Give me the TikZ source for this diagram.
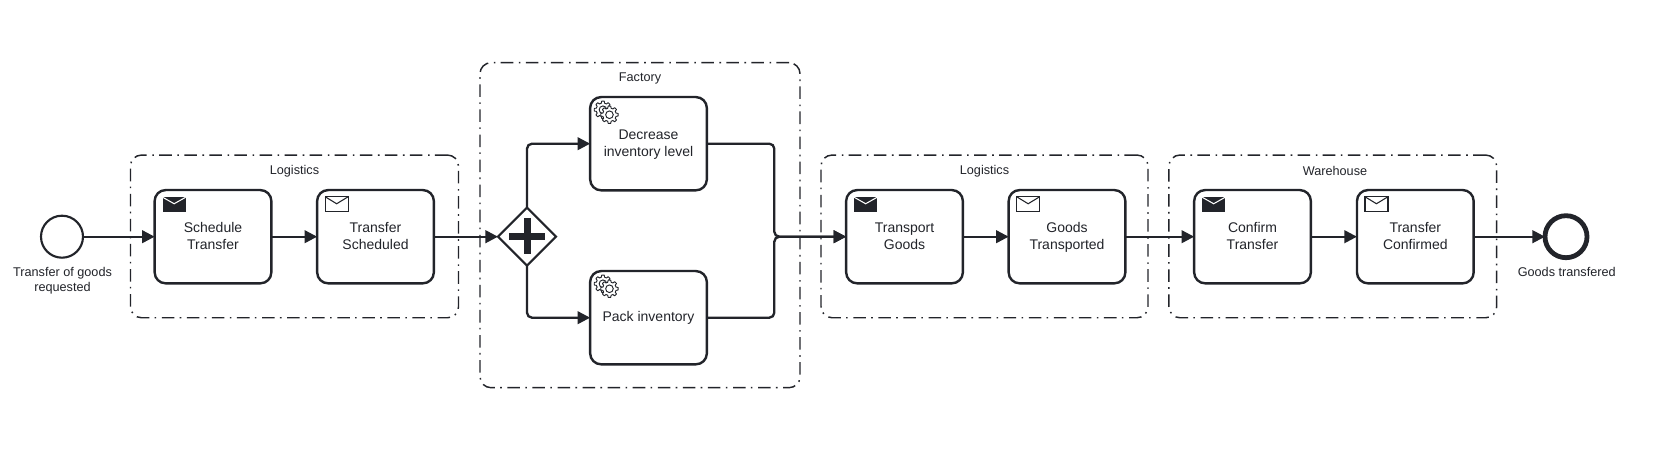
\documentclass[tikz,border=0pt]{standalone}
\usepackage{fontspec}
\setmainfont{Liberation Sans}
\usetikzlibrary{arrows.meta,shapes.geometric}
\definecolor{ink}{HTML}{22242A}
\def\px{0.75pt}
\def\tl{\rule[-3.2pt]{0pt}{12.75pt}}
\tikzset{
  x=0.75pt,y=-0.75pt,
  flow/.style={draw=ink,line width=1.75pt,-{Triangle[length=9.4pt,width=9.4pt]},rounded corners=3.75pt},
  taskbox/.style={draw=ink,fill=white,line width=1.8pt,rounded corners=8.25pt,minimum width=116.7*\px,minimum height=93.3*\px,inner sep=0,outer sep=0,align=center,text=ink,font=\fontsize{10.5pt}{12.75pt}\selectfont},
  groupbox/.style={draw=ink,line width=1.1pt,rounded corners=8.25pt,dash pattern=on 9.4pt off 4pt on 1.2pt off 4.2pt,inner sep=0,outer sep=0},
  caption/.style={text=ink,align=center,inner sep=0,font=\fontsize{9.5pt}{11.25pt}\selectfont},
  startev/.style={circle,draw=ink,fill=white,line width=1.6pt,minimum size=42*\px,inner sep=0,outer sep=0},
  endev/.style={circle,draw=ink,fill=white,line width=3.6pt,minimum size=42*\px,inner sep=0,outer sep=0},
  gatebox/.style={diamond,aspect=1,draw=ink,fill=white,line width=1.6pt,minimum size=58*\px,inner sep=0,outer sep=0},
  gearicon/.pic={
    \draw[draw=ink,fill=white,line width=0.7pt] plot[domain=0:360,samples=145] (\x:{6.7+2*min(1,max(0,0.5+1.6*cos(8*\x)))}) -- cycle;
    \draw[draw=ink,line width=0.7pt] (0,0) circle[radius=3.8];
    \begin{scope}[shift={(6.5,5)}]
    \draw[draw=ink,fill=white,line width=0.7pt] plot[domain=0:360,samples=145] (\x:{6.7+2*min(1,max(0,0.5+1.6*cos(8*\x)))}) -- cycle;
    \draw[draw=ink,fill=white,line width=0.7pt] (0,0) circle[radius=3.8];
    \end{scope}
  },
  mailfull/.pic={
    \fill[ink] (0,0) rectangle (23,15);
    \draw[white,line width=0.8pt] (0,0.5) -- (11.5,7) -- (23,0.5);
  },
  mailopen/.pic={
    \draw[draw=ink,line width=0.8pt] (0,0) rectangle (23,15);
    \draw[draw=ink,line width=0.8pt] (0,0) -- (11.5,7) -- (23,0);
  }
}
\begin{document}
\begin{tikzpicture}
\useasboundingbox[fill=white] (0,0) rectangle (1659,463);
% groups
\node[groupbox,minimum width=328*\px,minimum height=162.7*\px] (g1) at (294.5,236.4) {};
\node[groupbox,minimum width=320*\px,minimum height=325*\px] (g2) at (640,225.2) {};
\node[groupbox,minimum width=327*\px,minimum height=162.7*\px] (g3) at (984.5,236.4) {};
\node[groupbox,minimum width=327.7*\px,minimum height=162.7*\px] (g4) at (1332.8,236.4) {};
\node[caption] (g1t) at (294.5,171.3) {Logistics};
\node[caption] (g2t) at (640,78) {Factory};
\node[caption] (g3t) at (984.5,171.3) {Logistics};
\node[caption] (g4t) at (1335,171.3) {Warehouse};
% events and gateway
\node[startev] (start) at (62,236.7) {};
\node[caption] (startt) at (62.5,280.5) {Transfer of goods\\requested};
\node[endev] (finish) at (1566,236.7) {};
\node[caption] (finisht) at (1566.7,272) {Goods transfered};
\node[gatebox] (gw) at (527,236.7) {};
\draw[ink,line width=5.25pt] (509,236.5) -- (545,236.5) (527.3,218.5) -- (527.3,254.5);
% tasks
\node[taskbox] (a) at (213,236.7) {Schedule\tl\\Transfer\tl};
\node[taskbox] (b) at (375.5,236.7) {Transfer\tl\\Scheduled\tl};
\node[taskbox] (dec) at (648.5,143.7) {Decrease\tl\\inventory level\tl};
\node[taskbox] (pack) at (648.5,317.7) {Pack inventory\tl};
\node[taskbox] (c) at (904.5,236.7) {Transport\tl\\Goods\tl};
\node[taskbox] (d) at (1067,236.7) {Goods\tl\\Transported\tl};
\node[taskbox] (e) at (1252.5,236.7) {Confirm\tl\\Transfer\tl};
\node[taskbox] (f) at (1415.3,236.7) {Transfer\tl\\Confirmed\tl};
% icons
\path (a.north west) ++(8,6.7) pic {mailfull};
\path (b.north west) ++(8,6.7) pic {mailopen};
\path (c.north west) ++(8,6.7) pic {mailfull};
\path (d.north west) ++(8,6.7) pic {mailopen};
\path (e.north west) ++(8,6.7) pic {mailfull};
\path (f.north west) ++(8,6.7) pic {mailopen};
\path (dec.north west) ++(12.8,12.7) pic {gearicon};
\path (pack.north west) ++(12.8,12.7) pic {gearicon};
% connectors
\coordinate (mj) at (774.3,236.7);
\draw[flow] (start) -- (a);
\draw[flow] (a) -- (b);
\draw[flow] (b) -- (gw);
\draw[flow] (gw.north) |- (dec.west);
\draw[flow] (gw.south) |- (pack.west);
\draw[flow] (dec.east) -| (mj) -- (c.west);
\draw[flow] (pack.east) -| (mj) -- (c.west);
\draw[flow] (c) -- (d);
\draw[flow] (d) -- (e);
\draw[flow] (e) -- (f);
\draw[flow] (f) -- (finish);
\end{tikzpicture}
\end{document}
